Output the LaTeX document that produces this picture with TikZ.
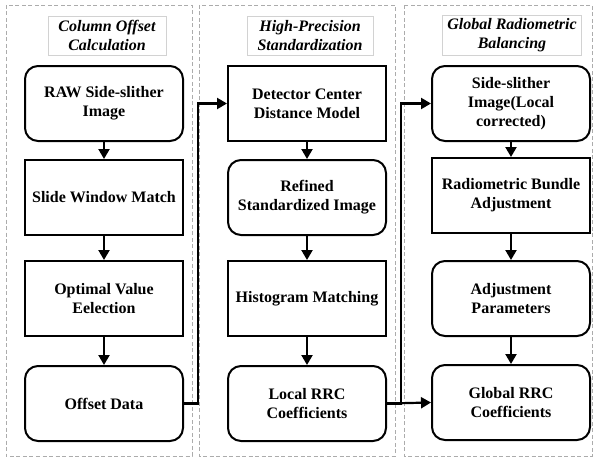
\documentclass[tikz,border=0pt]{standalone}
\usepackage{fontspec}
\setmainfont{Liberation Serif}
\usetikzlibrary{positioning,arrows.meta}

\begin{document}
\begin{tikzpicture}[x=1pt, y=-1pt,
	box/.style={draw, line width=2pt, minimum width=158pt, minimum height=75pt, align=center, inner sep=2pt, font=\bfseries\fontsize{16}{19}\selectfont},
	rbox/.style={box, rounded corners=13pt},
	title/.style={draw=gray!35, line width=0.6pt, fill=white, align=center, minimum height=39pt, inner xsep=5pt, font=\bfseries\itshape\fontsize{16}{19}\selectfont},
	panel/.style={draw=gray!65, line width=0.8pt, dash pattern=on 4pt off 2.5pt},
	flow/.style={-{Triangle[length=10pt,width=11pt]}, line width=2.2pt}]
	\useasboundingbox (0,0) rectangle (596,460);

	% riquadri
	\draw[panel] (6,5) rectangle (192,456);
	\draw[panel] (199,5) rectangle (395,456);
	\draw[panel] (404,5) rectangle (592,456);

	% titoli
	\node[title, minimum width=118pt] (ttlcol) at (107,35.5) {Column Offset\\Calculation};
	\node[title, minimum width=126pt] (ttlstd) at (310,35.5) {High-Precision\\Standardization};
	\node[title, minimum width=138pt] (ttlbal) at (512,35.5) {Global Radiometric\\Balancing};

	% blocchi
	\node[rbox] (raw) at (104,103.5) {RAW Side-slither\\Image};
	\node[box, below=17pt of raw] (slide) {Slide Window Match};
	\node[box, below=24pt of slide] (optim) {Optimal Value\\Eelection};
	\node[rbox, below=28pt of optim] (offset) {Offset Data};

	\node[box, right=43pt of raw] (detect) {Detector Center\\Distance Model};
	\node[rbox, below=17pt of detect] (refined) {Refined\\Standardized Image};
	\node[box, below=24pt of refined] (histo) {Histogram Matching};
	\node[rbox, below=28pt of histo] (locrrc) {Local RRC\\Coefficients};

	\node[rbox, right=44pt of detect] (side) {Side-slither\\Image(Local\\corrected)};
	\node[box, below=15pt of side] (bundle) {Radiometric Bundle\\Adjustment};
	\node[rbox, below=26pt of bundle] (adjpar) {Adjustment\\Parameters};
	\node[rbox, below=27pt of adjpar] (glorrc) {Global RRC\\Coefficients};

	% frecce
	\draw[flow] (raw) -- (slide);
	\draw[flow] (slide) -- (optim);
	\draw[flow] (optim) -- (offset);
	\draw[flow] (detect) -- (refined);
	\draw[flow] (refined) -- (histo);
	\draw[flow] (histo) -- (locrrc);
	\draw[flow] (side) -- (bundle);
	\draw[flow] (bundle) -- (adjpar);
	\draw[flow] (adjpar) -- (glorrc);
	\draw[flow] (offset.east) -- ++(14pt,0) |- (detect.west);
	\draw[flow] (locrrc.east) -- (glorrc.west);
	\draw[flow] (locrrc.east) -- ++(14pt,0) |- (side.west);
\end{tikzpicture}
\end{document}
